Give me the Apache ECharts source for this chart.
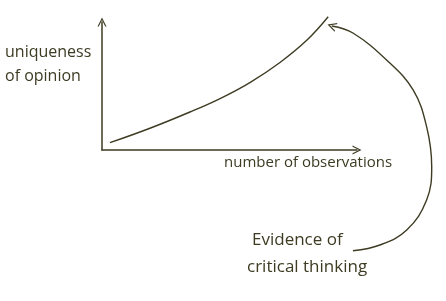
<!DOCTYPE html>
<html><head><meta charset="utf-8">
<script src="https://cdn.jsdelivr.net/npm/echarts@6/dist/echarts.min.js"></script>
<style>html,body{margin:0;padding:0;background:#fff}#c{width:446px;height:301px}</style>
</head><body><div id="c"></div>
<script>
// main curve (data units: x 0-10 along the axis, y 0-10 up the axis)
var curveX = [0.31, 1.88, 3.45, 4.63, 5.80, 6.98, 8.04, 8.87];
var curveY = [0.57, 1.70, 2.97, 4.02, 5.27, 6.84, 8.59, 10.41];
// annotation arrow path (same data units)
var noteX = [9.84, 10.90, 11.95, 12.73, 12.93, 12.73, 12.20, 11.16, 9.84, 9.01];
var noteY = [-7.87, -7.42, -6.25, -3.91, -1.30, 1.82, 4.69, 7.03, 9.14, 9.69];
var yAxisName = ['uniqueness', 'of opinion'];
var xAxisName = 'number of observations';
var noteText = ['Evidence of', 'critical thinking'];

var ink = '#3d3b22';
var chev = 'path://M0,10 L5,0 L10,10 L8.6,10 L5,2.8 L1.4,10 Z';
var font = '"Open Sans", sans-serif';

var gL = 102, gT = 22, gW = 255, gH = 128, W = 446, H = 301;
var pxX = gW / 10, pxY = gH / 10;

function pairs(xs, ys){ return xs.map(function(x,i){ return [x, ys[i]]; }); }
var noteData = pairs(noteX, noteY).map(function(p, i, a){
  if (i === a.length - 1) return {value: p, symbol: chev, symbolSize: [9, 9], symbolRotate: 72, itemStyle:{color: ink}};
  return {value: p, symbol: 'none'};
});
var hidden = {axisLine:{show:false}, axisTick:{show:false}, axisLabel:{show:false}, splitLine:{show:false}};

var chart = echarts.init(document.getElementById('c'));
chart.setOption({
  animation: false,
  grid: [
    {left: gL, top: gT, width: gW, height: gH},
    {left: gL, top: gT, width: W - gL, height: H - gT}
  ],
  xAxis: [
    {type: 'value', min: 0, max: 10, axisLine: {show: true, symbol: ['none', chev], symbolSize: [9, 9], lineStyle: {color: ink, width: 1.5}},
      axisTick: {show: false}, axisLabel: {show: false}, splitLine: {show: false}},
    Object.assign({type: 'value', gridIndex: 1, min: 0, max: (W - gL) / pxX}, hidden)
  ],
  yAxis: [
    {type: 'value', min: 0, max: 10, axisLine: {show: true, symbol: ['none', chev], symbolSize: [9, 9], lineStyle: {color: ink, width: 1.5}},
      axisTick: {show: false}, axisLabel: {show: false}, splitLine: {show: false}},
    Object.assign({type: 'value', gridIndex: 1, max: 10, min: 10 - (H - gT) / pxY}, hidden)
  ],
  graphic: [
    {type: 'text', left: 5, top: 40, style: {text: yAxisName.join('\n'), font: '16px ' + font, fill: ink, lineHeight: 24}},
    {type: 'text', left: 224, top: 155, style: {text: xAxisName, font: '15px ' + font, fill: ink}},
    {type: 'text', left: 252, top: 232, style: {text: noteText[0], font: '17px ' + font, fill: ink}},
    {type: 'text', left: 247, top: 259, style: {text: noteText[1], font: '17px ' + font, fill: ink}}
  ],
  series: [
    {type: 'line', data: pairs(curveX, curveY), smooth: 0.4, showSymbol: false, clip: false, lineStyle: {color: ink, width: 1.4}},
    {type: 'line', xAxisIndex: 1, yAxisIndex: 1, data: noteData, smooth: 0.4, clip: false, lineStyle: {color: ink, width: 1.4}}
  ]
});
</script></body></html>
